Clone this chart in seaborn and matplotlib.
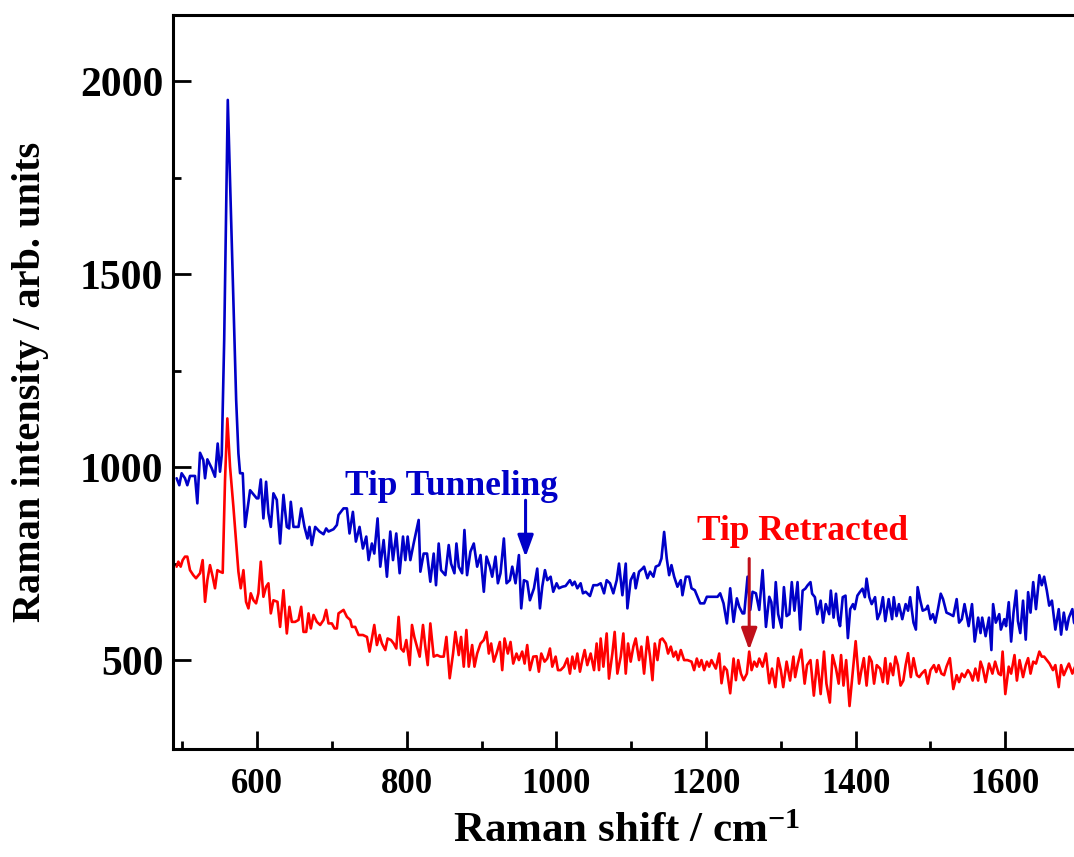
import numpy as np
import pandas as pd
import matplotlib
matplotlib.use("Agg")
import matplotlib.pyplot as plt
from matplotlib.ticker import MultipleLocator
import seaborn as sns

# Raman shift (cm^-1) and intensity for the tunneling-tip spectrum
tunnel_shift = [
    492.4, 496.0, 499.1, 503.6, 506.7, 510.3, 517.0, 520.1, 523.7, 528.1, 530.4, 533.5,
    539.3, 543.7, 547.3, 550.4, 552.7, 556.0, 560.8, 572.0, 575.0, 577.2, 580.8, 583.9,
    590.6, 599.5, 601.7, 604.9, 608.4, 612.0, 615.1, 618.3, 621.8, 626.3, 630.7, 635.2,
    639.7, 642.8, 645.0, 648.6, 655.3, 658.9, 663.3, 667.3, 670.0, 673.1, 677.6, 683.4,
    688.8, 692.3, 695.4, 702.1, 706.6, 708.8, 715.5, 720.0, 723.5, 728.0, 732.0, 736.9,
    741.4, 745.9, 749.0, 753.4, 756.6, 761.0, 764.6, 769.1, 773.5, 778.0, 781.6, 786.0,
    790.5, 795.0, 798.1, 801.2, 804.8, 809.2, 815.9, 818.2, 822.6, 827.1, 831.5, 836.0,
    839.1, 842.7, 845.8, 851.6, 856.1, 859.2, 863.7, 866.4, 869.5, 874.0, 877.1, 880.6,
    885.1, 889.6, 894.1, 898.6, 903.0, 906.6, 911.1, 914.2, 918.6, 921.8, 925.3, 929.8,
    933.4, 937.8, 941.0, 945.4, 949.9, 953.0, 956.6, 961.0, 964.6, 970.0, 974.4, 978.0,
    981.1, 984.7, 987.8, 992.3, 995.8, 1000.3, 1003.4, 1007.9, 1012.3, 1018.1, 1021.3, 1024.4,
    1028.0, 1032.4, 1035.5, 1039.1, 1044.9, 1049.4, 1054.7, 1059.2, 1063.7, 1067.2, 1071.7, 1076.1,
    1080.6, 1083.7, 1088.2, 1092.7, 1094.9, 1099.3, 1103.8, 1106.0, 1110.5, 1115.0, 1117.2, 1121.7,
    1125.2, 1129.7, 1132.8, 1137.3, 1140.4, 1144.0, 1147.5, 1150.7, 1153.8, 1157.4, 1161.8, 1166.3,
    1168.5, 1173.0, 1177.4, 1180.6, 1185.0, 1189.5, 1192.2, 1197.5, 1201.1, 1205.6, 1215.4, 1218.9,
    1223.4, 1227.9, 1232.3, 1236.8, 1241.2, 1244.4, 1248.8, 1251.1, 1255.5, 1259.1, 1262.2, 1266.7,
    1271.1, 1275.6, 1280.1, 1284.5, 1287.3, 1290.0, 1293.2, 1296.4, 1300.9, 1304.1, 1307.7, 1311.4,
    1314.6, 1318.2, 1322.3, 1325.9, 1329.1, 1332.7, 1335.9, 1339.6, 1341.8, 1345.5, 1348.6, 1353.2,
    1356.4, 1360.0, 1364.6, 1366.8, 1370.5, 1373.7, 1376.8, 1379.1, 1382.7, 1386.4, 1389.6, 1392.7,
    1396.4, 1398.7, 1402.3, 1405.5, 1409.1, 1412.3, 1414.6, 1418.2, 1421.4, 1425.9, 1429.1, 1432.7,
    1436.4, 1439.6, 1444.1, 1448.7, 1450.9, 1454.6, 1457.8, 1462.3, 1466.8, 1470.0, 1472.8, 1477.3,
    1480.5, 1482.8, 1486.4, 1489.6, 1494.1, 1496.4, 1500.0, 1503.2, 1506.4, 1510.0, 1513.7, 1516.8,
    1521.4, 1525.9, 1530.5, 1535.0, 1538.2, 1541.9, 1545.5, 1551.0, 1555.5, 1559.1, 1563.7, 1566.9,
    1569.1, 1573.7, 1578.2, 1581.4, 1583.7, 1587.3, 1591.9, 1594.1, 1598.7, 1601.0, 1604.6, 1607.8,
    1611.0, 1614.6, 1616.9, 1620.0, 1623.7, 1627.3, 1630.5, 1633.7, 1637.3, 1641.0, 1645.5, 1648.7,
    1651.9, 1655.5, 1658.7, 1662.3, 1666.9, 1671.4, 1674.6, 1678.2, 1681.9, 1685.0, 1689.6, 1691.9,
    1695.5, 1698.7, 1701.9,
]
tunnel_intensity = [
    971, 953, 984, 971, 953, 977, 977, 906, 1037, 1018, 971, 1020,
    997, 975, 1061, 988, 1031, 1330, 1951, 1173, 1035, 984, 984, 845,
    940, 919, 919, 968, 867, 962, 880, 845, 932, 915, 802, 928,
    845, 841, 910, 845, 845, 893, 845, 815, 845, 798, 845, 833,
    826, 841, 833, 839, 850, 876, 893, 893, 828, 884, 807, 845,
    789, 820, 759, 802, 776, 867, 742, 811, 716, 833, 759, 828,
    725, 820, 759, 820, 759, 802, 863, 729, 776, 776, 703, 776,
    694, 802, 733, 720, 798, 750, 725, 802, 742, 725, 837, 720,
    781, 802, 742, 772, 677, 768, 742, 716, 768, 699, 725, 815,
    699, 707, 742, 699, 772, 634, 707, 703, 655, 686, 737, 634,
    690, 733, 707, 716, 677, 699, 686, 690, 692, 707, 694, 703,
    686, 699, 673, 677, 666, 694, 694, 699, 673, 707, 699, 673,
    707, 750, 668, 750, 634, 707, 725, 686, 729, 737, 742, 712,
    729, 716, 742, 746, 763, 832, 763, 720, 746, 716, 690, 707,
    668, 716, 716, 686, 681, 660, 647, 647, 664, 664, 664, 673,
    647, 595, 686, 599, 660, 638, 621, 621, 716, 630, 677, 673,
    630, 733, 586, 664, 650, 584, 702, 619, 584, 689, 614, 619,
    702, 628, 702, 579, 680, 685, 694, 702, 672, 663, 619, 654,
    597, 645, 619, 680, 610, 672, 606, 588, 663, 667, 557, 632,
    645, 632, 667, 676, 685, 663, 711, 663, 645, 663, 606, 623,
    663, 601, 658, 606, 663, 614, 645, 606, 645, 628, 663, 597,
    579, 689, 654, 628, 632, 641, 606, 619, 597, 632, 672, 658,
    623, 619, 614, 658, 597, 606, 645, 588, 645, 548, 610, 570,
    610, 562, 610, 526, 645, 597, 619, 579, 606, 588, 650, 548,
    623, 680, 601, 570, 654, 553, 676, 623, 702, 632, 720, 694,
    716, 680, 641, 654, 579, 632, 566, 623, 579, 610, 632, 597,
    588, 601, 606,
]

# Raman shift (cm^-1) and intensity for the retracted-tip spectrum
retract_shift = [
    492.4, 494.7, 497.8, 500.5, 503.6, 506.7, 510.3, 514.7, 518.3, 523.7, 527.2, 530.4,
    533.5, 537.0, 540.6, 543.7, 546.9, 550.4, 554.0, 557.1, 560.2, 563.8, 568.3, 571.8,
    575.0, 578.1, 581.7, 585.2, 588.4, 591.5, 595.1, 598.6, 601.7, 604.9, 608.4, 612.0,
    615.1, 618.3, 621.8, 627.2, 630.7, 635.2, 639.7, 643.2, 646.4, 650.8, 655.3, 658.9,
    662.0, 665.6, 668.7, 671.8, 675.4, 679.8, 684.3, 688.8, 692.3, 695.4, 699.9, 703.5,
    706.6, 708.8, 715.5, 720.0, 724.5, 726.7, 731.1, 735.6, 741.4, 746.8, 750.3, 753.4,
    756.6, 760.1, 763.7, 766.8, 771.3, 774.4, 778.9, 782.5, 786.0, 789.1, 792.3, 795.8,
    799.4, 803.9, 807.0, 810.1, 813.7, 817.3, 821.7, 824.8, 828.0, 831.5, 836.0, 840.5,
    844.9, 849.4, 853.0, 857.4, 861.9, 865.0, 869.5, 872.6, 876.2, 879.7, 882.9, 887.4,
    890.5, 894.1, 898.6, 903.0, 906.6, 909.7, 912.8, 916.4, 920.0, 924.4, 927.6, 930.7,
    935.1, 938.7, 942.3, 946.7, 949.9, 954.3, 957.5, 961.0, 964.6, 969.1, 973.5, 976.6,
    979.8, 984.2, 987.8, 991.4, 994.5, 999.0, 1002.1, 1005.6, 1010.1, 1014.6, 1018.1, 1021.3,
    1024.4, 1028.0, 1031.5, 1034.6, 1037.8, 1041.3, 1045.8, 1050.3, 1053.8, 1057.0, 1059.2, 1062.8,
    1067.2, 1070.3, 1074.8, 1077.9, 1081.5, 1086.0, 1089.5, 1092.7, 1095.8, 1099.3, 1102.9, 1106.0,
    1110.5, 1113.6, 1117.2, 1121.7, 1125.2, 1128.4, 1131.5, 1135.1, 1138.6, 1141.7, 1146.2, 1149.3,
    1152.9, 1156.5, 1159.6, 1162.7, 1166.3, 1170.7, 1175.2, 1180.6, 1184.1, 1187.7, 1190.8, 1193.9,
    1197.5, 1201.1, 1204.2, 1207.3, 1213.1, 1217.6, 1220.7, 1224.3, 1227.9, 1232.3, 1236.8, 1239.9,
    1243.0, 1246.6, 1250.2, 1254.6, 1257.7, 1260.9, 1264.4, 1268.0, 1271.1, 1275.6, 1280.1, 1284.5,
    1288.2, 1292.7, 1296.4, 1300.0, 1303.2, 1307.7, 1312.3, 1316.8, 1319.1, 1322.7, 1327.3, 1331.8,
    1335.0, 1339.6, 1344.1, 1348.6, 1353.2, 1357.7, 1360.9, 1365.5, 1369.1, 1373.7, 1377.3, 1380.5,
    1383.7, 1387.3, 1391.8, 1396.4, 1400.0, 1404.6, 1407.7, 1410.9, 1414.6, 1418.2, 1421.4, 1424.6,
    1428.2, 1432.7, 1436.4, 1439.6, 1442.7, 1446.4, 1450.0, 1453.2, 1456.4, 1460.0, 1463.7, 1466.8,
    1470.0, 1473.7, 1477.3, 1481.8, 1485.0, 1488.2, 1492.8, 1496.4, 1500.0, 1504.6, 1507.8, 1510.9,
    1514.6, 1518.2, 1521.4, 1525.9, 1530.5, 1535.0, 1538.2, 1541.9, 1545.5, 1550.0, 1553.2, 1556.4,
    1560.0, 1563.7, 1566.9, 1570.0, 1573.7, 1578.2, 1582.8, 1586.4, 1591.0, 1594.1, 1596.4, 1600.0,
    1604.6, 1607.8, 1612.3, 1615.5, 1619.1, 1623.7, 1627.3, 1630.5, 1633.7, 1637.3, 1641.0, 1645.5,
    1648.7, 1651.9, 1655.5, 1659.1, 1663.7, 1666.9, 1671.4, 1674.6, 1678.2, 1681.9, 1685.0, 1689.6,
    1694.1, 1698.7, 1701.9,
]
retract_intensity = [
    742, 755, 742, 759, 768, 768, 733, 720, 712, 725, 759, 651,
    707, 746, 716, 686, 733, 729, 726, 966, 1126, 1001, 897, 811,
    729, 686, 733, 651, 634, 673, 655, 647, 673, 755, 664, 690,
    699, 621, 655, 651, 586, 681, 569, 638, 599, 599, 604, 638,
    573, 573, 621, 582, 617, 599, 591, 604, 630, 595, 595, 582,
    582, 621, 630, 612, 604, 586, 586, 565, 565, 560, 522, 556,
    591, 539, 565, 543, 526, 556, 552, 543, 530, 612, 530, 522,
    552, 487, 591, 560, 535, 509, 591, 535, 487, 595, 509, 513,
    509, 509, 560, 453, 517, 573, 513, 560, 483, 578, 483, 539,
    483, 517, 543, 552, 573, 517, 543, 496, 517, 547, 474, 556,
    517, 547, 491, 517, 500, 522, 491, 539, 474, 509, 510, 470,
    517, 496, 504, 530, 483, 509, 474, 474, 483, 504, 465, 509,
    478, 517, 470, 500, 526, 487, 517, 474, 543, 474, 556, 483,
    569, 452, 517, 573, 465, 509, 569, 465, 543, 496, 535, 556,
    500, 535, 465, 560, 509, 448, 543, 500, 552, 556, 543, 517,
    535, 509, 522, 500, 526, 500, 500, 496, 474, 504, 483, 500,
    474, 496, 483, 500, 478, 517, 440, 483, 474, 414, 504, 448,
    500, 465, 448, 465, 522, 474, 496, 483, 504, 483, 517, 440,
    478, 430, 505, 474, 430, 496, 447, 509, 456, 491, 527, 439,
    487, 500, 408, 500, 412, 522, 439, 390, 513, 478, 439, 513,
    434, 500, 381, 474, 549, 439, 474, 505, 434, 509, 496, 439,
    487, 478, 443, 505, 439, 491, 461, 509, 487, 434, 447, 487,
    518, 456, 505, 461, 456, 465, 474, 439, 474, 487, 469, 487,
    465, 461, 483, 505, 425, 461, 443, 465, 456, 474, 465, 447,
    478, 447, 496, 478, 443, 491, 465, 496, 465, 461, 522, 412,
    483, 465, 513, 447, 500, 456, 487, 505, 465, 496, 491, 522,
    509, 509, 500, 491, 474, 487, 430, 487, 461, 478, 491, 465,
    487, 456, 469,
]

# Annotation labels and arrow anchors (x, y in data units)
label_tunnel = "Tip Tunneling"
label_retract = "Tip Retracted"
tunnel_text_xy = (717.8, 927.0)
tunnel_arrow_from = (958.8, 914.0)
tunnel_arrow_to = (958.8, 767.0)
retract_text_xy = (1188.5, 811.0)
retract_arrow_from = (1257.7, 763.0)
retract_arrow_to = (1257.7, 526.0)

x_major = [600, 800, 1000, 1200, 1400, 1600]
y_major = [500, 1000, 1500, 2000]

blue = "#0000c8"
red = "#ff0000"
dark_red = "#c0101a"

sns.set_theme(style="white")
plt.rcParams["font.family"] = ["Liberation Serif", "DejaVu Serif"]
plt.rcParams["font.weight"] = "bold"
plt.rcParams["text.color"] = "black"
plt.rcParams["axes.labelcolor"] = "black"
plt.rcParams["xtick.color"] = "black"
plt.rcParams["ytick.color"] = "black"
plt.rcParams["axes.edgecolor"] = "black"
plt.rcParams["mathtext.fontset"] = "custom"
plt.rcParams["mathtext.rm"] = "Liberation Serif:bold"
plt.rcParams["mathtext.bf"] = "Liberation Serif:bold"
plt.rcParams["mathtext.it"] = "Liberation Serif:bold"
plt.rcParams["mathtext.default"] = "bf"

df_tunnel = pd.DataFrame({"shift": tunnel_shift, "intensity": tunnel_intensity})
df_retract = pd.DataFrame({"shift": retract_shift, "intensity": retract_intensity})

fig = plt.figure(figsize=(10.74, 8.57), dpi=100)
ax = fig.add_axes([0.1611, 0.1266, 0.8446, 0.8559])

sns.lineplot(data=df_tunnel, x="shift", y="intensity", ax=ax, color=blue,
             linewidth=1.9, sort=False, estimator=None)
sns.lineplot(data=df_retract, x="shift", y="intensity", ax=ax, color=red,
             linewidth=1.9, sort=False, estimator=None)

ax.set_xlim(487.6, 1700)
ax.set_ylim(271, 2171)

ax.xaxis.set_major_locator(MultipleLocator(200))
ax.xaxis.set_minor_locator(MultipleLocator(100))
ax.yaxis.set_major_locator(MultipleLocator(500))
ax.yaxis.set_minor_locator(MultipleLocator(250))
ax.set_xticks(x_major)
ax.set_yticks(y_major)
ax.set_xticklabels([str(v) for v in x_major])
ax.set_yticklabels([str(v) for v in y_major])

ax.tick_params(axis="both", which="major", direction="in", length=13, width=2.0,
               bottom=True, left=True, top=False, right=False, colors="black")
ax.tick_params(axis="both", which="minor", direction="in", length=6, width=2.0,
               bottom=True, left=True, top=False, right=False, colors="black")
ax.tick_params(axis="x", which="major", labelsize=25, pad=14)
ax.tick_params(axis="y", which="major", labelsize=30, pad=7)
for lab in ax.get_xticklabels() + ax.get_yticklabels():
    lab.set_fontweight("bold")
    lab.set_color("black")

for side in ["left", "bottom", "top", "right"]:
    ax.spines[side].set_linewidth(2.2)
    ax.spines[side].set_color("black")

ax.set_xlabel(r"Raman shift / cm$^{-1}$", fontsize=31, fontweight="bold",
              labelpad=9, color="black")
ax.set_ylabel("Raman intensity / arb. units", fontsize=29, fontweight="bold",
              labelpad=22, color="black")
ax.grid(False)

ax.text(*tunnel_text_xy, label_tunnel, color=blue, fontsize=25.5, fontweight="bold",
        ha="left", va="baseline")
ax.text(*retract_text_xy, label_retract, color=red, fontsize=25.5, fontweight="bold",
        ha="left", va="baseline")

ax.annotate("", xy=tunnel_arrow_to, xytext=tunnel_arrow_from,
            arrowprops=dict(arrowstyle="-|>,head_length=1.1,head_width=0.4",
                            color=blue, lw=2.2, shrinkA=0, shrinkB=0))
ax.annotate("", xy=retract_arrow_to, xytext=retract_arrow_from,
            arrowprops=dict(arrowstyle="-|>,head_length=1.1,head_width=0.4",
                            color=dark_red, lw=2.2, shrinkA=0, shrinkB=0))

fig.savefig("out.png", dpi=100)
